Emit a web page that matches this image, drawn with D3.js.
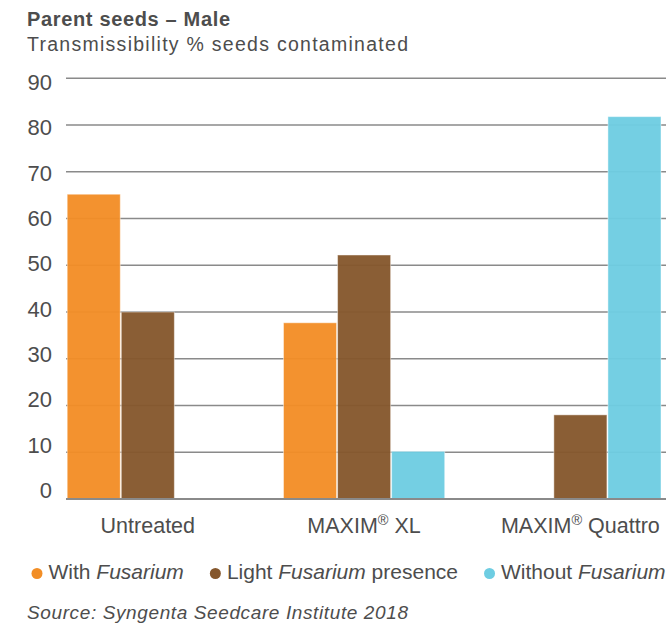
<!DOCTYPE html>
<html>
<head>
<meta charset="utf-8">
<script src="https://cdn.jsdelivr.net/npm/d3@7"></script>
<style>
  body { margin: 0; background: #fff; }
  text { font-family: "Liberation Sans", Arial, Helvetica, sans-serif; fill: #4d4d4d; }
</style>
</head>
<body>
<div id="chart"></div>
<script>
// data
var categories = ["Untreated", "MAXIM", "MAXIM"];
var categorySuffix = ["", " XL", " Quattro"];
var seriesNames = ["With Fusarium", "Light Fusarium presence", "Without Fusarium"];
var withFusarium = [65.2, 37.7, null];
var lightFusarium = [40, 52.2, 18];
var withoutFusarium = [null, 10.2, 81.8];
var yTicks = [0, 10, 20, 30, 40, 50, 60, 70, 80, 90];
var colors = ["#f28e26", "#85572d", "#6ecde2"];

var width = 666, height = 628;

var svg = d3.select("#chart").append("svg")
    .attr("width", width)
    .attr("height", height);

var series = [withFusarium, lightFusarium, withoutFusarium];

var y = d3.scaleLinear().domain([0, 90]).range([499, 78.3]);
// tick labels sit a bit off the grid in the original
var yLab = d3.scaleLinear().domain([0, 90]).range([498, 90]);

var x0 = d3.scaleBand()
    .domain(d3.range(categories.length))
    .range([66.7, 661.5])
    .paddingInner(0.25)
    .paddingOuter(0);

var x1 = d3.scaleBand()
    .domain(d3.range(series.length))
    .range([0, x0.bandwidth()]);

// title
svg.append("text")
    .attr("x", 27).attr("y", 26)
    .attr("textLength", 203).attr("lengthAdjust", "spacing")
    .style("font-size", "20px").style("font-weight", "bold")
    .text("Parent seeds \u2013 Male");
svg.append("text")
    .attr("x", 27).attr("y", 51)
    .attr("textLength", 381).attr("lengthAdjust", "spacing")
    .style("font-size", "19.5px")
    .text("Transmissibility % seeds contaminated");

// gridlines
svg.append("g").selectAll("line")
    .data(yTicks.filter(d => d > 0))
    .enter().append("line")
    .attr("x1", 66).attr("x2", width)
    .attr("y1", d => y(d)).attr("y2", d => y(d))
    .attr("stroke", "#8a8a8a")
    .attr("stroke-width", 1.5);

// y labels
svg.append("g").selectAll("text")
    .data(yTicks)
    .enter().append("text")
    .attr("x", 52)
    .attr("y", d => yLab(d))
    .attr("text-anchor", "end")
    .style("font-size", "22px")
    .text(d => d);

// bars
var groups = svg.append("g").selectAll("g")
    .data(categories)
    .enter().append("g")
    .attr("transform", (d, i) => "translate(" + x0(i) + ",0)");

groups.selectAll("rect")
    .data((d, i) => series.map((s, j) => ({ s: j, v: s[i] })).filter(e => e.v != null))
    .enter().append("rect")
    .attr("x", d => x1(d.s) + 0.5)
    .attr("width", x1.bandwidth() - 1)
    .attr("y", d => y(d.v))
    .attr("height", d => y(0) - y(d.v))
    .attr("fill", d => colors[d.s])
    .attr("fill-opacity", 0.96)
    .attr("stroke", "#fff")
    .attr("stroke-opacity", 0.45)
    .attr("stroke-width", 1);

// baseline
svg.append("line")
    .attr("x1", 66).attr("x2", width)
    .attr("y1", y(0)).attr("y2", y(0))
    .attr("stroke", "#8a8a8a")
    .attr("stroke-width", 2);

// category labels
var cat = svg.append("g").selectAll("text")
    .data(categories)
    .enter().append("text")
    .attr("x", (d, i) => x0(i) + x0.bandwidth() / 2)
    .attr("y", 533)
    .attr("text-anchor", "middle")
    .style("font-size", "21.5px");
cat.append("tspan").text(d => d);
cat.filter((d, i) => i > 0).append("tspan")
    .attr("dy", -8).style("font-size", "14.5px").text("\u00ae");
cat.filter((d, i) => i > 0).append("tspan")
    .attr("dy", 8).text((d, i) => categorySuffix[i + 1]);

// legend
var legend = svg.append("g");
var lx = 31.5;
seriesNames.forEach(function(name, i) {
    var g = legend.append("g").attr("transform", "translate(" + lx + ",0)");
    g.append("circle")
        .attr("cx", 5.5).attr("cy", 573.5).attr("r", 5.5)
        .attr("fill", colors[i]);
    var t = g.append("text")
        .attr("x", 17).attr("y", 579)
        .style("font-size", "21px");
    var parts = name.split("Fusarium");
    t.append("tspan").text(parts[0]);
    t.append("tspan").style("font-style", "italic").text("Fusarium");
    if (parts[1]) t.append("tspan").text(parts[1]);
    lx += 17 + t.node().getComputedTextLength() + 26;
});

// source
svg.append("text")
    .attr("x", 27).attr("y", 619)
    .attr("textLength", 381).attr("lengthAdjust", "spacing")
    .style("font-size", "19px").style("font-style", "italic")
    .text("Source: Syngenta Seedcare Institute 2018");
</script>
</body>
</html>
